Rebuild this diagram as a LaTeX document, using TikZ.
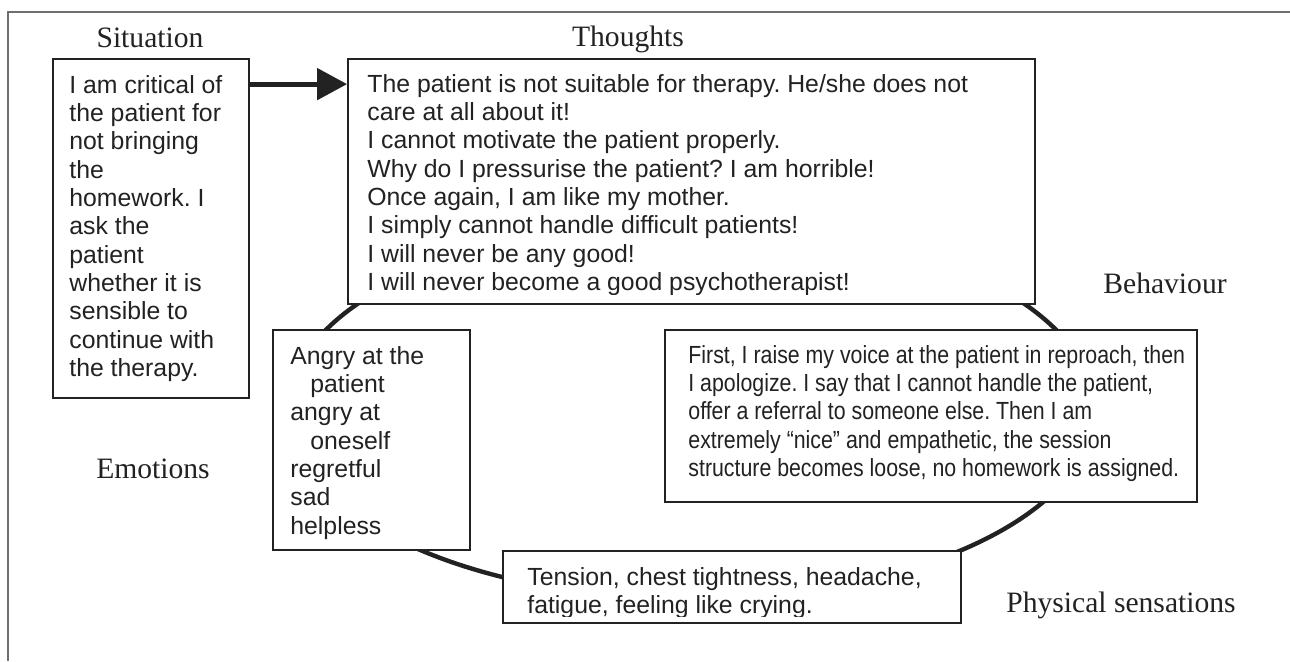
\documentclass[tikz,border=0pt]{standalone}
\usepackage{fontspec}
\setmainfont{Liberation Serif}
\setsansfont{Liberation Sans}
\newfontfamily\narrowsans[FakeStretch=0.86]{Liberation Sans}
\usetikzlibrary{arrows.meta,fit}
\definecolor{ink}{HTML}{222222}
\definecolor{frame-gray}{HTML}{6E6E6E}
\frenchspacing

\begin{document}
\begin{tikzpicture}[x=0.5pt, y=-0.5pt,
    box/.style={draw=ink, line width=0.9pt, fill=white, inner sep=0pt},
    txt/.style={anchor=north west, inner sep=0pt, align=left, text=ink,
      font=\sffamily\fontsize{12.4}{14.15}\selectfont},
    lbl/.style={anchor=base, inner sep=0pt, text=ink,
      font=\fontsize{14.8}{17}\selectfont}]
  \useasboundingbox (0,0) rectangle (1290,661);
  \draw[frame-gray, line width=1pt] (8,661) -- (8,12) -- (1290,12);
  \draw[ink, line width=2.2pt] (691,410) ellipse [x radius=403, y radius=189];
  \node[box, fit={(53,59) (249,398)}] (sit) {};
  \node[box, fit={(348,59) (1035,304)}] (th) {};
  \node[box, fit={(273,330) (470,550)}] (emo) {};
  \node[box, fit={(665,330) (1197,502)}] (beh) {};
  \node[box, fit={(503,551) (961,623)}] (phys) {};
  \node[lbl] (sit-lbl) at (150,47) {Situation};
  \node[lbl] (th-lbl) at (628,46) {Thoughts};
  \node[lbl] (beh-lbl) at (1165,293) {Behaviour};
  \node[lbl] (emo-lbl) at (153,478) {Emotions};
  \node[lbl] (phys-lbl) at (1121,612) {Physical sensations};
  \node[txt] (sit-txt) at (69,75) {I am critical of\\the patient for\\not bringing\\the\\homework. I\\ask the\\patient\\whether it is\\sensible to\\continue with\\the therapy.};
  \begin{scope}
    \clip (th.north west) rectangle ([yshift=5pt]th.south east);
    \node[txt] (th-txt) at (367,74) {The patient is not suitable for therapy. He/she does not\\care at all about it!\\I cannot motivate the patient properly.\\Why do I pressurise the patient? I am horrible!\\Once again, I am like my mother.\\I simply cannot handle difficult patients!\\I will never be any good!\\I will never become a good psychotherapist!};
  \end{scope}
  \node[txt] (emo-txt) at (290,346) {Angry at the\\\hspace*{10pt}patient\\angry at\\\hspace*{10pt}oneself\\regretful\\sad\\helpless};
  \node[txt, font=\narrowsans\fontsize{12.4}{14.15}\selectfont] (beh-txt) at (688,345) {First, I raise my voice at the patient in reproach, then\\I apologize. I say that I cannot handle the patient,\\offer a referral to someone else. Then I am\\extremely “nice” and empathetic, the session\\structure becomes loose, no homework is assigned.};
  \begin{scope}
    \clip (phys.north west) rectangle ([yshift=3.5pt]phys.south east);
    \node[txt] (phys-txt) at (527,567) {Tension, chest tightness, headache,\\fatigue, feeling like crying.};
  \end{scope}
  \draw[ink, line width=2.5pt, -{Triangle[length=15pt, width=15.5pt]}]
    ([yshift=-13pt]sit.north east) -- ([yshift=-13pt]th.north west);
\end{tikzpicture}
\end{document}
